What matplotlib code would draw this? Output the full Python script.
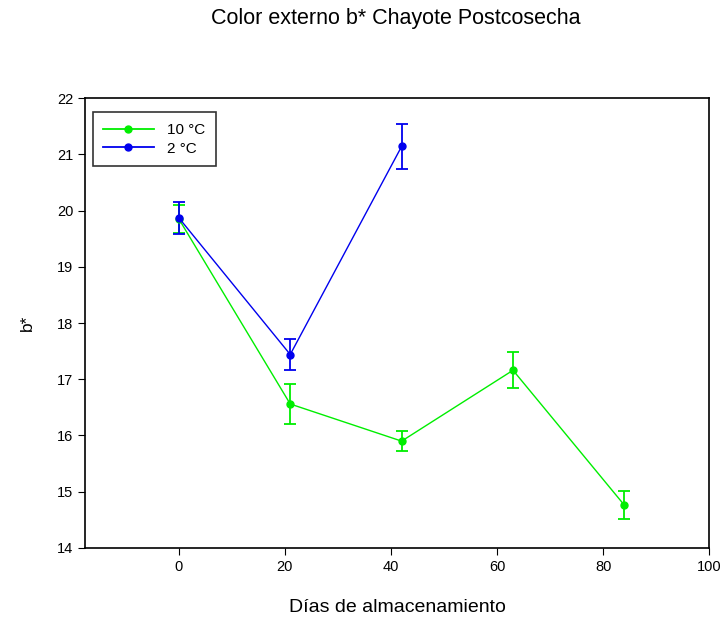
import matplotlib
matplotlib.use('Agg')
import matplotlib.pyplot as plt
from matplotlib.lines import Line2D

plt.rcParams['font.family'] = ['Liberation Sans', 'DejaVu Sans']

# Datos
dias_10 = [0, 21, 42, 63, 84]
b_10 = [19.85, 16.56, 15.90, 17.16, 14.76]
err_10 = [0.25, 0.35, 0.18, 0.32, 0.25]

dias_2 = [0, 21, 42]
b_2 = [19.87, 17.44, 21.14]
err_2 = [0.28, 0.27, 0.40]

verde = '#00ee00'
azul = '#0000ee'

fig = plt.figure(figsize=(7.26, 6.21), dpi=100)
ax = fig.add_axes([0.117, 0.1176, 0.860, 0.7245])

ax.errorbar(dias_10, b_10, yerr=err_10, color=verde, marker='o', markersize=5,
            linewidth=1, capsize=4.5, elinewidth=1.3, capthick=1.3)
ax.errorbar(dias_2, b_2, yerr=err_2, color=azul, marker='o', markersize=5,
            linewidth=1, capsize=4.5, elinewidth=1.3, capthick=1.3)

ax.set_xlim(-17.7, 100)
ax.set_ylim(14, 22)
ax.set_xticks([0, 20, 40, 60, 80, 100])
ax.set_yticks(range(14, 23))
ax.tick_params(direction='out', length=5, labelsize=10.5)
for s in ax.spines.values():
    s.set_linewidth(1.2)

ax.set_xlabel('Días de almacenamiento', fontsize=14, labelpad=18)
ax.set_ylabel('b*', fontsize=12.5, labelpad=16)
fig.text(0.545, 0.970, 'Color externo b* Chayote Postcosecha', fontsize=15.5,
         ha='center', va='center')

handles = [Line2D([], [], color=verde, marker='o', markersize=5, linewidth=1.3),
           Line2D([], [], color=azul, marker='o', markersize=5, linewidth=1.3)]
leg = ax.legend(handles, ['10 °C', '2 °C'], loc='upper left', fontsize=11,
                frameon=True, fancybox=False, edgecolor='black', borderpad=0.7,
                handlelength=3.3, labelspacing=0.3, handletextpad=0.9,
                bbox_to_anchor=(0.0, 0.985))
leg.get_frame().set_linewidth(1.2)

fig.savefig('out.png', dpi=100)
